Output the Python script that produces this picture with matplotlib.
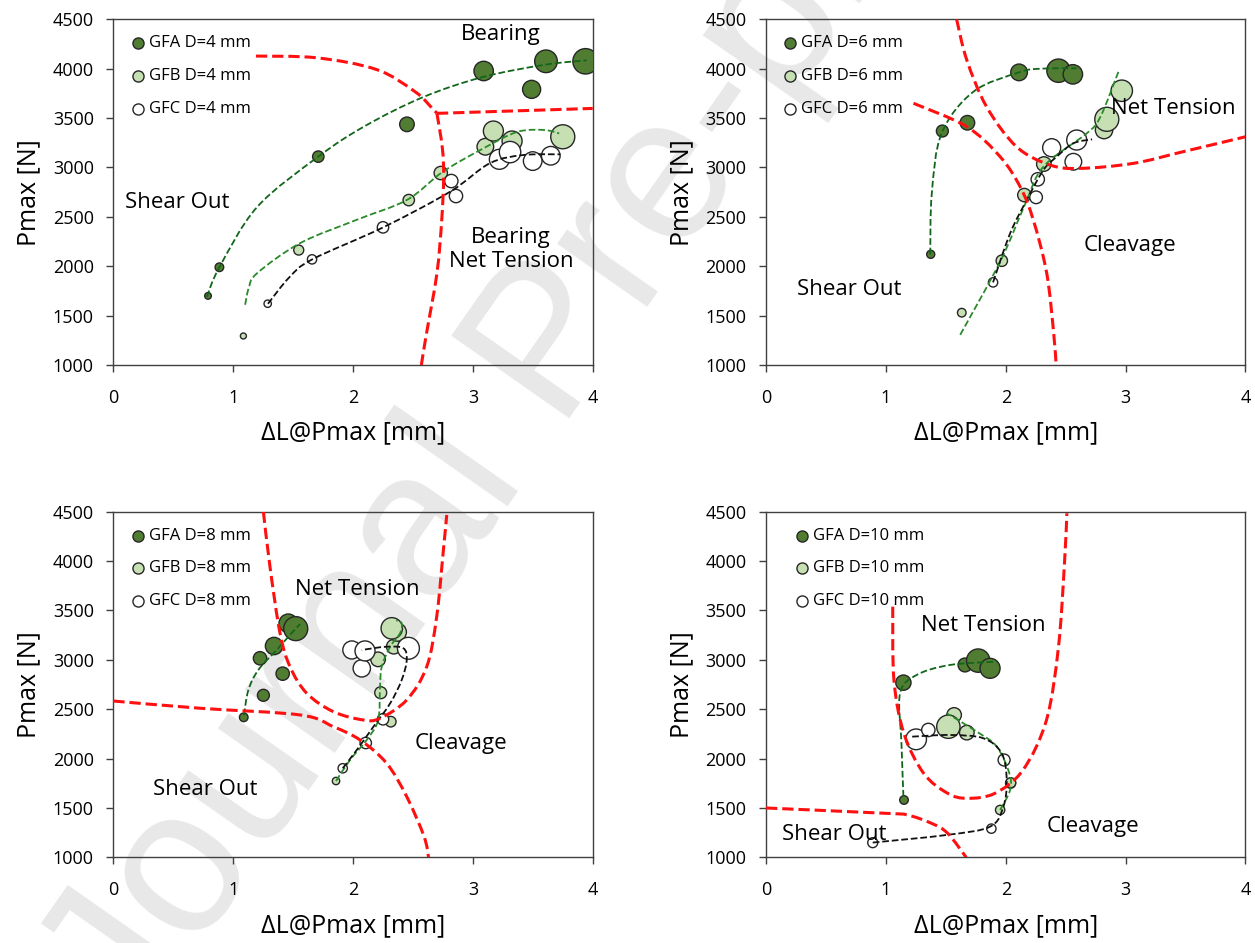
import numpy as np
import matplotlib
matplotlib.use('Agg')
import matplotlib.pyplot as plt
from matplotlib.path import Path
from matplotlib.patches import PathPatch

plt.rcParams['font.family'] = ['Open Sans', 'DejaVu Sans']

# ---- D = 4 mm ----
gfa4_dl = [0.79, 0.885, 1.71, 2.45, 3.09, 3.49, 3.61, 3.94]
gfa4_p = [1700, 1990, 3110, 3437, 3977, 3791, 4075, 4075]
gfa4_s = [4.8, 6.2, 8.2, 10.5, 14.0, 13.0, 16.3, 18.3]
gfb4_dl = [1.085, 1.547, 2.465, 2.732, 3.104, 3.171, 3.327, 3.75]
gfb4_p = [1294, 2164, 2670, 2944, 3210, 3369, 3268, 3311]
gfb4_s = [4.3, 7.2, 8.2, 9.6, 12.0, 14.4, 14.4, 17.3]
gfc4_dl = [1.288, 1.658, 2.25, 2.82, 2.859, 3.221, 3.31, 3.499, 3.65]
gfc4_p = [1621, 2070, 2394, 2863, 2711, 3083, 3156, 3065, 3119]
gfc4_s = [5.3, 6.7, 8.2, 9.6, 9.6, 14.4, 15.4, 13.4, 13.4]

gfa4_fit = [(0.78, 1690), (0.885, 1990), (1.2, 2600), (1.71, 3110), (2.1, 3420),
            (2.58, 3710), (3.08, 3915), (3.6, 4040), (3.95, 4085)]
gfb4_fit = [(1.10, 1610), (1.13, 1780), (1.2, 1930), (1.56, 2235), (2.03, 2470),
            (2.45, 2672), (2.75, 2957), (3.09, 3195), (3.37, 3360), (3.59, 3380), (3.72, 3345)]
gfc4_fit = [(1.29, 1620), (1.47, 1890), (1.66, 2070), (2.25, 2393), (2.81, 2755),
            (3.14, 3042), (3.42, 3126), (3.73, 3133)]
bound4_a = [(1.19, 4128), (1.7, 4110), (2.2, 3990), (2.52, 3765), (2.66, 3600), (2.70, 3548)]
bound4_b = [(2.70, 3548), (2.745, 3200), (2.756, 2905), (2.74, 2467), (2.70, 1928),
            (2.61, 1300), (2.57, 1000)]
bound4_c = [(2.70, 3548), (4.0, 3598)]

# ---- D = 6 mm ----
gfa6_dl = [1.374, 1.471, 1.68, 2.111, 2.44, 2.56]
gfa6_p = [2121, 3369, 3453, 3963, 3980, 3943]
gfa6_s = [5.8, 8.6, 10.5, 12.0, 16.8, 14.0]
gfb6_dl = [1.633, 1.967, 2.155, 2.318, 2.82, 2.843, 2.968]
gfb6_p = [1530, 2056, 2721, 3035, 3379, 3488, 3777]
gfb6_s = [6.2, 8.2, 9.6, 10.5, 12.5, 17.3, 15.4]
gfc6_dl = [1.894, 2.253, 2.267, 2.383, 2.564, 2.592]
gfc6_p = [1837, 2698, 2880, 3200, 3058, 3278]
gfc6_s = [6.7, 9.1, 9.6, 13.0, 12.0, 14.4]

gfa6_fit = [(1.37, 2120), (1.383, 2738), (1.465, 3346), (1.73, 3767), (2.11, 3963),
            (2.29, 4000), (2.59, 4004)]
gfb6_fit = [(1.62, 1306), (1.953, 2046), (2.155, 2610), (2.314, 3008), (2.676, 3346),
            (2.79, 3514), (2.948, 3994)]
gfc6_fit = [(1.894, 1837), (2.036, 2332), (2.175, 2670), (2.314, 2974), (2.425, 3109),
            (2.564, 3245), (2.72, 3285)]
bound6_a = [(1.23, 3650), (1.675, 3413), (1.953, 3109), (2.12, 2805), (2.23, 2468),
            (2.342, 1928), (2.40, 1321), (2.42, 1000)]
bound6_b = [(1.59, 4500), (1.675, 4088), (1.84, 3615), (2.09, 3210), (2.37, 3025),
            (2.62, 2991), (3.065, 3042), (3.48, 3160), (4.0, 3311)]

# ---- D = 8 mm ----
gfa8_dl = [1.088, 1.252, 1.413, 1.224, 1.341, 1.46, 1.522]
gfa8_p = [2418, 2641, 2860, 3016, 3140, 3370, 3316]
gfa8_s = [6.2, 8.6, 9.6, 9.6, 12.5, 13.4, 17.3]
gfb8_dl = [1.858, 2.231, 2.315, 2.209, 2.34, 2.37, 2.323]
gfb8_p = [1773, 2667, 2374, 3005, 3133, 3280, 3319]
gfb8_s = [5.3, 8.6, 7.6, 10.5, 10.5, 13.0, 15.4]
gfc8_dl = [1.914, 2.106, 2.25, 1.99, 2.073, 2.10, 2.462]
gfc8_p = [1902, 2158, 2398, 3100, 2914, 3090, 3117]
gfc8_s = [6.7, 8.2, 8.2, 13.0, 12.5, 14.4, 15.8]

gfa8_fit = [(1.09, 2440), (1.127, 2695), (1.21, 2898), (1.363, 3100), (1.474, 3252),
            (1.558, 3362)]
gfb8_fit = [(1.858, 1773), (1.975, 1986), (2.114, 2189), (2.21, 2391), (2.225, 2728),
            (2.24, 2931), (2.31, 3133), (2.392, 3269), (2.406, 3370), (2.36, 3400)]
gfc8_fit = [(1.914, 1902), (2.031, 2087), (2.17, 2323), (2.31, 2560), (2.406, 2796),
            (2.448, 2999), (2.42, 3117), (2.28, 3133), (2.073, 3100)]
bound8_a = [(0.0, 2583), (0.723, 2510), (1.558, 2442), (1.836, 2323), (2.058, 2189),
            (2.28, 1953), (2.448, 1615), (2.593, 1210), (2.63, 1000)]
bound8_b = [(1.252, 4500), (1.307, 3943), (1.391, 3269), (1.474, 2931), (1.614, 2661),
            (1.836, 2475), (2.086, 2391), (2.225, 2408), (2.448, 2594), (2.615, 2931),
            (2.698, 3437), (2.754, 4112), (2.782, 4467)]

# ---- D = 10 mm ----
gfa10_dl = [1.151, 1.146, 1.66, 1.77, 1.869]
gfa10_p = [1581, 2769, 2948, 2992, 2914]
gfa10_s = [6.2, 11.0, 10.0, 16.8, 14.4]
gfb10_dl = [1.953, 2.042, 1.569, 1.521, 1.675]
gfb10_p = [1480, 1756, 2442, 2323, 2263]
gfb10_s = [6.7, 7.2, 10.5, 16.8, 10.5]
gfc10_dl = [0.89, 1.88, 1.986, 2.04, 1.252, 1.354]
gfc10_p = [1149, 1291, 1986, 1750, 2195, 2290]
gfc10_s = [7.2, 6.7, 8.6, 7.2, 14.9, 9.6]

gfa10_fit = [(1.146, 1615), (1.13, 2150), (1.118, 2661), (1.257, 2847), (1.535, 2948),
             (1.925, 2982)]
gfb10_fit = [(1.953, 1480), (2.036, 1682), (2.03, 1851), (1.925, 2121), (1.758, 2273),
             (1.508, 2459)]
gfc10_fit = [(0.89, 1150), (1.508, 1227), (1.869, 1311), (1.98, 1513), (2.008, 1784),
             (1.966, 2054), (1.813, 2206), (1.535, 2239), (1.216, 2222)]
bound10_a = [(0.0, 1500), (1.0, 1446), (1.18, 1429), (1.38, 1345), (1.515, 1244), (1.67, 1000)]
bound10_b = [(1.057, 3538), (1.067, 2796), (1.15, 2256), (1.315, 1851), (1.515, 1649),
             (1.68, 1598), (1.91, 1649), (2.144, 1885), (2.34, 2391), (2.44, 3133),
             (2.49, 3978), (2.51, 4484)]

names = ['GFA', 'GFB', 'GFC']
fills = ['#507d32', '#c6e0b4', '#ffffff']
fit_colors = ['#11661a', '#2a8a2a', '#111111']
edge = '#262626'


def curve(ax, pts, **kw):
    # smooth path through the points (Catmull-Rom written as cubic Bezier segments)
    p = np.asarray(pts, float)
    q = np.vstack([p[0], p, p[-1]])
    verts, codes = [p[0]], [Path.MOVETO]
    for i in range(1, len(p)):
        a, b, c, d = q[i - 1], q[i], q[i + 1], q[i + 2]
        verts += [b + (c - a) / 6, c - (d - b) / 6, c]
        codes += [Path.CURVE4] * 3
    ax.add_patch(PathPatch(Path(verts, codes), fill=False, **kw))


def panel(ax, d, series, fits, bounds, labels, leg_x, order=(0, 1, 2)):
    for k in order:
        x, y, s = series[k]
        ax.scatter(x, y, s=np.square(s), c=fills[k], edgecolors=edge, linewidths=1, zorder=3)
    for pts, col in zip(fits, fit_colors):
        curve(ax, pts, ec=col, lw=1.3, ls='--', zorder=4)
    for pts in bounds:
        curve(ax, pts, ec='#ff1010', lw=2.2, ls='--', zorder=5)
    for txt, x, y in labels:
        ax.text(x, y, txt, fontsize=16, ha='center', va='center', zorder=6,
                linespacing=1.2)
    for k, (name, fc) in enumerate(zip(names, fills)):
        yy = 0.931 - 0.095 * k
        ax.plot([leg_x], [yy], 'o', ms=8, mfc=fc, mec=edge, mew=1,
                transform=ax.transAxes, zorder=6)
        ax.text(leg_x + 0.022, yy, f'{name} D={d} mm', fontsize=12, va='center',
                transform=ax.transAxes, zorder=6)

    ax.set_xlim(0, 4)
    ax.set_ylim(1000, 4500)
    ax.set_xticks(range(5))
    ax.set_yticks(range(1000, 4501, 500))
    ax.tick_params(direction='out', length=5, width=1, color='#404040', labelsize=13)
    ax.tick_params(axis='x', pad=12)
    ax.tick_params(axis='y', pad=9)
    for sp in ax.spines.values():
        sp.set_color('#404040')
        sp.set_linewidth(1)
    ax.set_facecolor('none')
    ax.set_xlabel('ΔL@Pmax [mm]', fontsize=18, labelpad=10)
    ax.set_ylabel('Pmax [N]', fontsize=18, labelpad=8)


fig = plt.figure(figsize=(12.55, 9.43), dpi=100)
w, h = 0.382, 0.3666
ax1 = fig.add_axes([0.0903, 0.6129, w, h])
ax2 = fig.add_axes([0.6104, 0.6129, w, h])
ax3 = fig.add_axes([0.0903, 0.0908, w, h])
ax4 = fig.add_axes([0.6104, 0.0908, w, h])

# watermark behind the charts
fig.text(0.44, 0.63, 'Journal Pre-proof', fontsize=150, rotation=55, color='#e8e8e8',
         ha='center', va='center', family='Liberation Sans', zorder=-1)

panel(ax1, 4,
      [(gfa4_dl, gfa4_p, gfa4_s), (gfb4_dl, gfb4_p, gfb4_s), (gfc4_dl, gfc4_p, gfc4_s)],
      [gfa4_fit, gfb4_fit, gfc4_fit], [bound4_a, bound4_b, bound4_c],
      [('Bearing', 3.23, 4348), ('Shear Out', 0.535, 2643),
       ('Bearing\nNet Tension', 3.32, 2167)], 0.0515)
panel(ax2, 6,
      [(gfa6_dl, gfa6_p, gfa6_s), (gfb6_dl, gfb6_p, gfb6_s), (gfc6_dl, gfc6_p, gfc6_s)],
      [gfa6_fit, gfb6_fit, gfc6_fit], [bound6_a, bound6_b],
      [('Net Tension', 3.40, 3595), ('Cleavage', 3.04, 2208), ('Shear Out', 0.696, 1766)],
      0.050)
panel(ax3, 8,
      [(gfa8_dl, gfa8_p, gfa8_s), (gfb8_dl, gfb8_p, gfb8_s), (gfc8_dl, gfc8_p, gfc8_s)],
      [gfa8_fit, gfb8_fit, gfc8_fit], [bound8_a, bound8_b],
      [('Net Tension', 2.034, 3714), ('Cleavage', 2.90, 2148), ('Shear Out', 0.763, 1692)],
      0.0515)
panel(ax4, 10,
      [(gfa10_dl, gfa10_p, gfa10_s), (gfb10_dl, gfb10_p, gfb10_s), (gfc10_dl, gfc10_p, gfc10_s)],
      [gfa10_fit, gfb10_fit, gfc10_fit], [bound10_a, bound10_b],
      [('Net Tension', 1.81, 3343), ('Cleavage', 2.73, 1311), ('Shear Out', 0.57, 1227)],
      0.076, order=(0, 2, 1))

fig.savefig('out.png', dpi=100)
